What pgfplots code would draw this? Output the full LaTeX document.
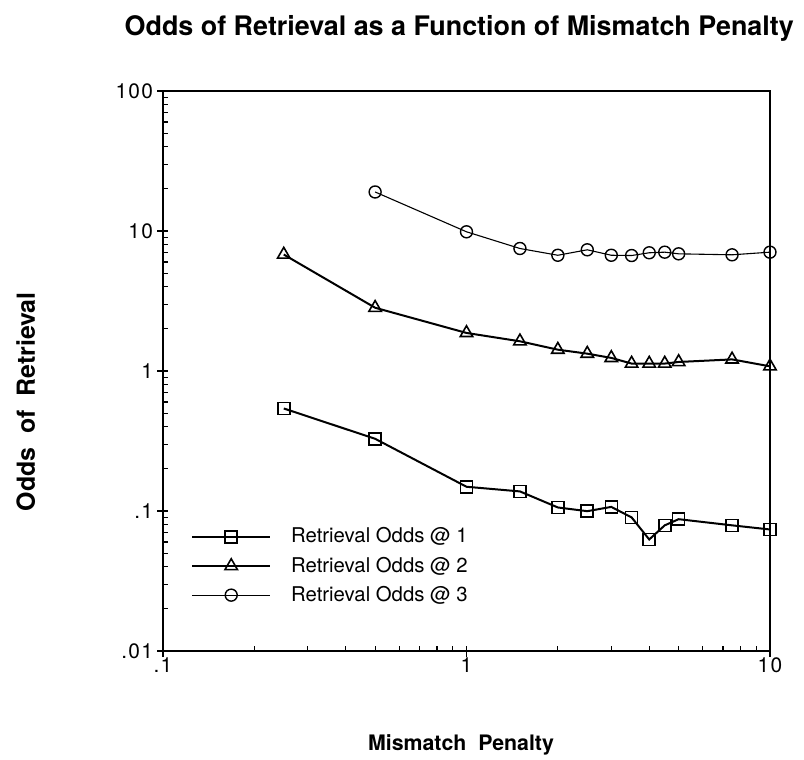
\documentclass[border=0pt]{standalone}
\usepackage{fontspec}
\setmainfont{TeX Gyre Heros}
\newfontfamily\tickfont[LetterSpace=6]{TeX Gyre Heros}
\usepackage{pgfplots}
\pgfplotsset{compat=1.18}

\begin{document}
\begin{tikzpicture}
\useasboundingbox (-81.5bp,-54.5bp) rectangle (320.5bp,325.5bp);
\begin{loglogaxis}[
  at={(0,0)}, anchor=south west,
  scale only axis,
  width=303.5bp, height=280bp,
  xmin=0.1, xmax=10, ymin=0.01, ymax=100,
  xtick={0.1,1,10}, xticklabels={.1,1,10},
  ytick={0.01,0.1,1,10,100}, yticklabels={.01,.1,1,10,100},
  /pgf/number format/assume math mode=true,
  tick pos=left,
  tick align=inside,
  major tick length=-3bp,
  minor tick length=2.5bp,
  axis line style={line width=1bp},
  every tick/.style={black, line width=0.6bp},
  ticklabel style={font=\tickfont\fontsize{10.5}{12}\selectfont},
  yticklabel style={xshift=-1.5bp},
  title={Odds of Retrieval as a Function of Mismatch Penalty},
  title style={at={(axis description cs:0.488,1.091)}, anchor=center, font=\fontsize{13.5}{16}\selectfont\bfseries},
  xlabel={Mismatch\ \ Penalty},
  xlabel style={at={(axis description cs:0.491,-0.168)}, anchor=center, font=\fontsize{10.7}{13}\selectfont\bfseries},
  ylabel={Odds\ \ of\ \ Retrieval},
  ylabel style={at={(axis description cs:-0.226,0.445)}, anchor=center, font=\fontsize{12.5}{14}\selectfont\bfseries},
  legend style={at={(axis description cs:0.036,0.235)}, anchor=north west, draw=none, fill=none,
    font=\fontsize{10.2}{12}\selectfont, row sep=1.5bp,
    /tikz/every odd column/.append style={column sep=8bp}},
  legend cell align=left,
  legend image code/.code={\draw[mark repeat=2,mark phase=2] plot coordinates {(0bp,0bp)(19.5bp,0bp)(39bp,0bp)};},
]

% odds @ 1
\addplot[black, line width=1bp, mark=square, mark size=3bp, mark options={solid, fill=white, line width=0.8bp}] coordinates {
  (0.25,0.540) (0.5,0.328) (1,0.149) (1.5,0.138) (2,0.106) (2.5,0.0997) (3,0.107)
  (3.5,0.090) (4,0.0626) (4.5,0.079) (5,0.0874) (7.5,0.079) (10,0.0738)
};
\addlegendentry{Retrieval Odds @ 1}

% odds @ 2
\addplot[black, line width=1bp, mark=triangle, mark size=3.6bp, mark options={solid, fill=white, line width=0.8bp}] coordinates {
  (0.25,6.79) (0.5,2.83) (1,1.87) (1.5,1.63) (2,1.42) (2.5,1.33) (3,1.24)
  (3.5,1.13) (4,1.13) (4.5,1.13) (5,1.16) (7.5,1.21) (10,1.08)
};
\addlegendentry{Retrieval Odds @ 2}

% odds @ 3
\addplot[black, line width=0.55bp, mark=o, mark size=3bp, mark options={solid, fill=white, line width=0.7bp}] coordinates {
  (0.5,19.0) (1,9.87) (1.5,7.50) (2,6.71) (2.5,7.34) (3,6.71)
  (3.5,6.68) (4,6.99) (4.5,7.06) (5,6.87) (7.5,6.76) (10,7.06)
};
\addlegendentry{Retrieval Odds @ 3}

\end{loglogaxis}
\end{tikzpicture}
\end{document}
